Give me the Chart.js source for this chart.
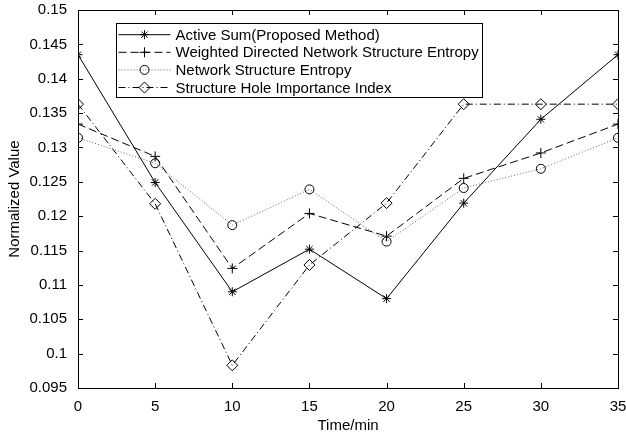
<!DOCTYPE html>
<html>
<head>
<meta charset="utf-8">
<script src="https://cdn.jsdelivr.net/npm/chart.js@4.4.1/dist/chart.umd.min.js"></script>
<style>
  html, body { margin: 0; padding: 0; background: #fff; }
  #wrap { width: 626px; height: 436px; }
</style>
</head>
<body>
<div id="wrap"><canvas id="chart"></canvas></div>
<script>
// time points (min)
var times = [0, 5, 10, 15, 20, 25, 30, 35];

// series values
var activeSum = [0.1435, 0.1249, 0.1090, 0.1152, 0.1080, 0.1219, 0.1341, 0.1435];
var weightedDirected = [0.1334, 0.1287, 0.1124, 0.1204, 0.1171, 0.1255, 0.1292, 0.1334];
var networkEntropy = [0.1314, 0.1277, 0.1187, 0.1239, 0.1163, 0.1241, 0.1269, 0.1314];
var holeIndex = [0.1363, 0.1218, 0.0983, 0.1129, 0.1219, 0.1363, 0.1363, 0.1363];

var seriesNames = [
  'Active Sum(Proposed Method)',
  'Weighted Directed Network Structure Entropy',
  'Network Structure Entropy',
  'Structure Hole Importance Index'
];

var xTicks = [0, 5, 10, 15, 20, 25, 30, 35];
var yTicks = [0.095, 0.1, 0.105, 0.11, 0.115, 0.12, 0.125, 0.13, 0.135, 0.14, 0.145, 0.15];

function pts(vals) {
  return vals.map(function (v, i) { return { x: times[i], y: v }; });
}

var FONT = "'Liberation Sans', Arial, sans-serif";

var styles = [
  { color: '#000', dash: [], style: 'star', radius: 4.5 },
  { color: '#000', dash: [8, 4], style: 'cross', radius: 5 },
  { color: '#666', dash: [1, 2], style: 'circle', radius: 4.5 },
  { color: '#000', dash: [7, 3, 1, 3], style: 'rectRot', radius: 5.5 }
];
var allData = [activeSum, weightedDirected, networkEntropy, holeIndex];

var datasets = allData.map(function (vals, i) {
  var s = styles[i];
  return {
    label: seriesNames[i],
    data: pts(vals),
    borderColor: s.color,
    borderWidth: 1,
    borderDash: s.dash,
    pointStyle: s.style,
    pointRadius: s.radius,
    pointBorderColor: '#000',
    pointBackgroundColor: 'rgba(0,0,0,0)',
    pointBorderWidth: 1,
    tension: 0,
    fill: false
  };
});

// box round the plot with inward ticks on all sides
var boxPlugin = {
  id: 'box',
  afterDatasetsDraw: function (chart) {
    var ctx = chart.ctx, a = chart.chartArea;
    var xs = chart.scales.x, ys = chart.scales.y;
    ctx.save();
    ctx.strokeStyle = '#000';
    ctx.lineWidth = 1;
    ctx.setLineDash([]);
    ctx.strokeRect(Math.round(a.left) + 0.5, Math.round(a.top) + 0.5,
      Math.round(a.right - a.left), Math.round(a.bottom - a.top));
    ctx.beginPath();
    xTicks.forEach(function (t) {
      var px = Math.round(xs.getPixelForValue(t)) + 0.5;
      ctx.moveTo(px, a.bottom); ctx.lineTo(px, a.bottom - 5);
      ctx.moveTo(px, a.top); ctx.lineTo(px, a.top + 5);
    });
    yTicks.forEach(function (t) {
      var py = Math.round(ys.getPixelForValue(t)) + 0.5;
      ctx.moveTo(a.left, py); ctx.lineTo(a.left + 5, py);
      ctx.moveTo(a.right, py); ctx.lineTo(a.right - 5, py);
    });
    ctx.stroke();
    ctx.restore();
  }
};

// MATLAB-style legend box with line + marker samples
var legendPlugin = {
  id: 'boxLegend',
  afterDraw: function (chart) {
    var ctx = chart.ctx;
    var x0 = 116.5, y0 = 23.5, w = 366, h = 74;
    ctx.save();
    ctx.fillStyle = '#fff';
    ctx.fillRect(x0, y0, w, h);
    ctx.strokeStyle = '#000';
    ctx.lineWidth = 1;
    ctx.strokeRect(x0, y0, w, h);
    ctx.font = '15px ' + FONT;
    ctx.textBaseline = 'middle';
    chart.data.datasets.forEach(function (ds, i) {
      var cy = 34.7 + i * 17.6;
      ctx.save();
      ctx.strokeStyle = ds.borderColor;
      ctx.setLineDash(ds.borderDash);
      ctx.beginPath();
      ctx.moveTo(x0 + 2, cy); ctx.lineTo(x0 + 54, cy);
      ctx.stroke();
      ctx.restore();
      ctx.strokeStyle = '#000';
      ctx.fillStyle = 'rgba(0,0,0,0)';
      ctx.setLineDash([]);
      Chart.helpers.drawPoint(ctx, {
        pointStyle: ds.pointStyle, radius: ds.pointRadius, borderWidth: 1, rotation: 0
      }, x0 + 28, cy);
      ctx.fillStyle = '#000';
      ctx.fillText(ds.label, x0 + 59, cy + 1);
    });
    ctx.restore();
  }
};

new Chart(document.getElementById('chart'), {
  type: 'line',
  data: { datasets: datasets },
  plugins: [boxPlugin, legendPlugin],
  options: {
    responsive: true,
    maintainAspectRatio: false,
    animation: false,
    layout: { padding: { top: 10, right: 8, left: 0, bottom: 0 } },
    plugins: {
      legend: { display: false },
      tooltip: { enabled: false }
    },
    scales: {
      x: {
        type: 'linear',
        min: 0,
        max: 35,
        afterBuildTicks: function (s) { s.ticks = xTicks.map(function (v) { return { value: v }; }); },
        afterFit: function (s) { s.height = 48; s.paddingLeft = 0; s.paddingRight = 0; },
        grid: { display: false, drawTicks: false },
        border: { display: false },
        ticks: { color: '#000', font: { family: FONT, size: 15 }, padding: 10, maxRotation: 0 },
        title: { display: true, text: 'Time/min', color: '#000', font: { family: FONT, size: 15 }, padding: { top: 0, bottom: 1 } }
      },
      y: {
        min: 0.095,
        max: 0.15,
        afterBuildTicks: function (s) { s.ticks = yTicks.map(function (v) { return { value: v }; }); },
        afterFit: function (s) { s.width = 78; s.paddingTop = 0; s.paddingBottom = 0; },
        grid: { display: false, drawTicks: false },
        border: { display: false },
        ticks: {
          color: '#000', font: { family: FONT, size: 15 }, padding: 11,
          callback: function (v) { return String(parseFloat(v.toFixed(3))); }
        },
        title: { display: true, text: 'Normalized Value', color: '#000', font: { family: FONT, size: 15 }, padding: { top: 6, bottom: 4 } }
      }
    }
  }
});
</script>
</body>
</html>
